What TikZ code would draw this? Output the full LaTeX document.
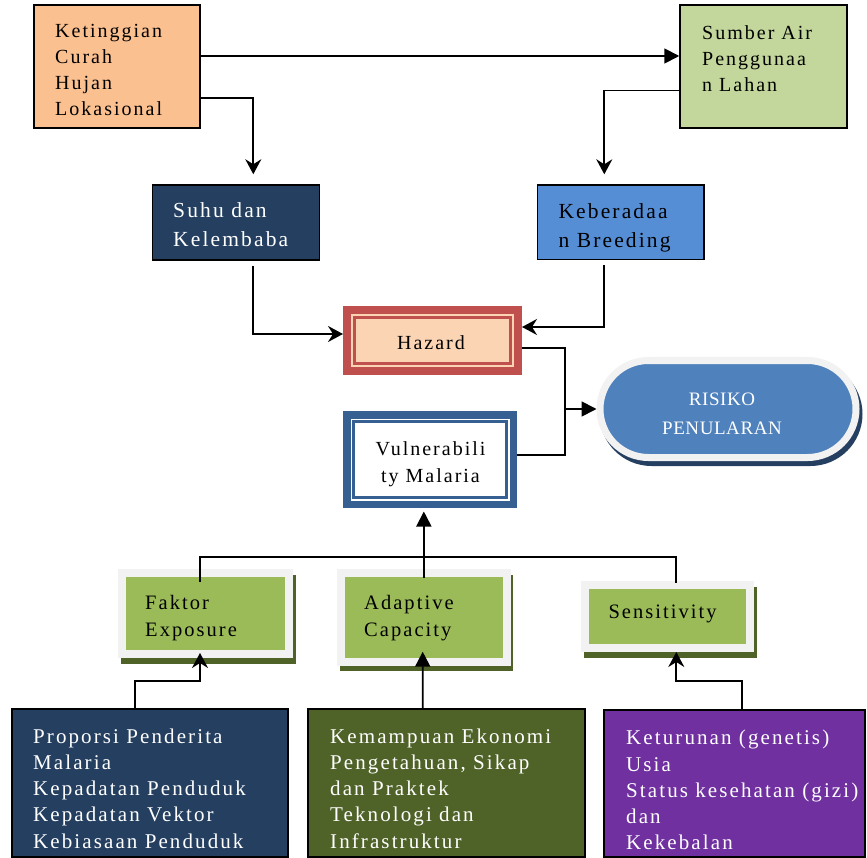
\documentclass[tikz,border=0pt]{standalone}
\usepackage{fontspec}
\setmainfont{Liberation Serif}
\newfontfamily\bx[LetterSpace=10]{Liberation Serif}
\newfontfamily\rx[LetterSpace=3]{Liberation Serif}
\usetikzlibrary{arrows.meta,backgrounds}
\definecolor{peach}{HTML}{FAC090}
\definecolor{sage}{HTML}{C3D69B}
\definecolor{navyc}{HTML}{243F60}
\definecolor{bluek}{HTML}{558ED5}
\definecolor{redh}{HTML}{C0504D}
\definecolor{peachl}{HTML}{FBD4B4}
\definecolor{bluev}{HTML}{376092}
\definecolor{frameg}{HTML}{F2F2F2}
\definecolor{greenf}{HTML}{9BBB59}
\definecolor{olivec}{HTML}{4F6228}
\definecolor{purplec}{HTML}{7030A0}
\definecolor{bluer}{HTML}{4F81BD}
\newcommand\fTop{\bx\fontsize{20}{26}\selectfont}
\newcommand\fMid{\bx\fontsize{21.5}{29.5}\selectfont}
\newcommand\fHz{\bx\fontsize{20}{26.7}\selectfont}
\newcommand\fGr{\bx\fontsize{20.5}{26.7}\selectfont}
\newcommand\fBot{\bx\fontsize{21}{26.3}\selectfont}
\newcommand\fRis{\rx\fontsize{19}{29}\selectfont}
\begin{document}
\begin{tikzpicture}[x=1pt,y=-1pt]
\useasboundingbox (0,0) rectangle (867,858);
\tikzset{
 box/.style={draw=black, line width=1.5pt, inner sep=0pt},
 frm/.style={draw=frameg, line width=8pt, fill=greenf, inner sep=0pt},
 tx/.style={anchor=north west, inner sep=0pt, align=left},
 conn/.style={draw=black, line width=1.8pt},
 tri/.style={conn, -{Triangle[length=15pt,width=15pt]}},
 stl/.style={conn, -{Stealth[length=15pt,width=16pt,inset=5pt]}},
}
% top row
\node[box, fill=peach, minimum width=166pt, minimum height=123pt] (ket) at (117,66.5) {};
\node[box, fill=sage, minimum width=167pt, minimum height=123pt] (sum) at (763.5,66.5) {};
\node[box, fill=navyc, minimum width=167pt, minimum height=75pt] (suhu) at (235.8,222.5) {};
\node[box, fill=bluek, minimum width=166.7pt, minimum height=74.3pt] (keb) at (620.7,222.2) {};
% hazard
\node[draw=redh, line width=8pt, fill=peachl, minimum width=171pt, minimum height=61pt, inner sep=0pt] (haz) at (432.5,340.5) {};
\draw[redh, line width=2.6pt] ([xshift=11.5pt,yshift=-11.5pt]haz.north west) rectangle ([xshift=-11.5pt,yshift=11.5pt]haz.south east);
% vulnerability
\node[draw=bluev, line width=7.5pt, fill=white, minimum width=166.5pt, minimum height=89.5pt, inner sep=0pt] (vul) at (430,459.5) {};
\draw[bluev, line width=2.3pt] ([xshift=10.5pt,yshift=-10.5pt]vul.north west) rectangle ([xshift=-10.5pt,yshift=10.5pt]vul.south east);
% risiko
\node[draw=frameg, line width=7pt, fill=bluer, rounded corners=48.5pt, minimum width=256pt, minimum height=97pt, inner sep=0pt] (ris) at (728,409) {};
% green boxes
\node[frm, minimum width=167pt, minimum height=81pt] (fak) at (205.5,613.5) {};
\node[frm, minimum width=165.7pt, minimum height=88.7pt] (ada) at (423.85,617.35) {};
\node[frm, minimum width=165pt, minimum height=63pt] (sen) at (667.5,616.5) {};
% bottom boxes
\node[box, fill=navyc, minimum width=276pt, minimum height=148pt] (pro) at (150,783) {};
\node[box, fill=olivec, minimum width=277pt, minimum height=148pt] (kem) at (446.5,783) {};
\node[box, fill=purplec, minimum width=261pt, minimum height=147pt] (ktr) at (734.5,783.5) {};
% shadows
\begin{scope}[on background layer]
\fill[navyc, rounded corners=52pt] ([xshift=3pt,yshift=-5pt]ris.south west) rectangle ([xshift=3pt,yshift=-5pt]ris.north east);
\fill[olivec] ([xshift=2.5pt,yshift=-5.5pt]fak.south west) rectangle ([xshift=2.5pt,yshift=-5.5pt]fak.north east);
\fill[olivec] ([xshift=2.5pt,yshift=-5.5pt]ada.south west) rectangle ([xshift=2.5pt,yshift=-5.5pt]ada.north east);
\fill[olivec] ([xshift=2.5pt,yshift=-5.5pt]sen.south west) rectangle ([xshift=2.5pt,yshift=-5.5pt]sen.north east);
\end{scope}
% texts
\node[tx, font=\fTop] (ketT) at (55,24) {Ketinggian\\Curah\\Hujan\\Lokasional};
\node[tx, font=\fTop] (sumT) at (702,25) {Sumber Air\\Penggunaa\\n Lahan};
\node[tx, font=\fMid, text=white] (suhuT) at (173,202.3) {Suhu dan\\Kelembaba};
\node[tx, font=\fMid] (kebT) at (558.3,203.3) {Keberadaa\\n Breeding};
\node[font=\fHz, inner sep=0pt] (hazT) at (431,343) {Hazard};
\node[font=\fHz, inner sep=0pt, anchor=north, align=center] (vulT) at (430.5,441.5) {Vulnerabili\\ty Malaria};
\node[font=\fRis, inner sep=0pt, anchor=north, align=center, text=white] (risT) at (722,393) {RISIKO\\PENULARAN};
\node[tx, font=\fGr] (fakT) at (145,595) {Faktor\\Exposure};
\node[tx, font=\fGr] (adaT) at (364,595) {Adaptive\\Capacity};
\node[tx, font=\fGr] (senT) at (608.3,605) {Sensitivity};
\node[tx, font=\fBot, text=white] (proT) at (33,728.3) {Proporsi Penderita\\Malaria\\Kepadatan Penduduk\\Kepadatan Vektor\\Kebiasaan Penduduk};
\node[tx, font=\fBot, text=white] (kemT) at (330,728.3) {Kemampuan Ekonomi\\Pengetahuan, Sikap\\dan Praktek\\Teknologi dan\\Infrastruktur};
\node[tx, font=\fBot, text=white] (ktrT) at (626,730) {Keturunan (genetis)\\Usia\\Status kesehatan (gizi)\\dan\\Kekebalan};
% connectors
\draw[tri] ([yshift=10.5pt]ket.east) -- ([yshift=10.5pt]sum.west);
\draw[stl] ([yshift=-31.5pt]ket.east) -| ([xshift=17.5pt,yshift=10pt]suhu.north);
\draw[stl] ([yshift=-24pt]sum.west) -| ([xshift=-16.4pt,yshift=10pt]keb.north);
\draw[stl] ([xshift=17.5pt,yshift=-5pt]suhu.south) |- ([yshift=6.5pt]haz.west);
\draw[stl] ([xshift=-16.4pt,yshift=-5pt]keb.south) |- ([yshift=13.5pt]haz.east);
\coordinate (jn) at (565,409);
\draw[conn] ([yshift=-7.5pt]haz.east) -| (jn) |- ([yshift=4.5pt]vul.east);
\draw[tri] (jn) -- (jn -| ris.west);
\draw[tri, shorten >=3.5pt] ([yshift=-9pt]ada.north) -- (ada.north |- vul.south);
\draw[conn] ([xshift=-5.5pt,yshift=-13pt]fak.north) |- ([yshift=12pt]ada.north) -| ([xshift=8.8pt,yshift=-1.5pt]sen.north);
\draw[stl] ([xshift=-15pt]pro.north) |- ([xshift=-5.5pt,yshift=-23pt]fak.south) -- ([xshift=-5.5pt,yshift=5pt]fak.south);
\draw[tri] ([xshift=-23.8pt]kem.north) -- ([xshift=-1.15pt,yshift=14pt]ada.south);
\draw[stl] ([xshift=7.2pt]ktr.north) |- ([xshift=8.8pt,yshift=-29pt]sen.south) -- ([xshift=8.8pt]sen.south);
\end{tikzpicture}
\end{document}
